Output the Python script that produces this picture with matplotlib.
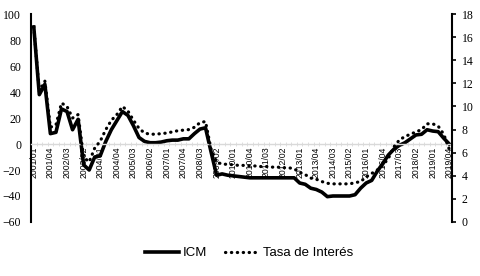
import matplotlib.pyplot as plt
from matplotlib.ticker import MultipleLocator

# trimestres 2001/01 .. 2019/04
anios = list(range(2001, 2020))
trimestres = ["01", "02", "03", "04"]
periodos = [f"{a}/{t}" for a in anios for t in trimestres]

icm = [90, 38, 46, 8, 9, 27, 25, 11, 19, -16,
       -20, -10, -9, 2, 11, 18, 25, 22, 14, 5,
       2, 1, 1, 1.5, 2.5, 3, 3, 4, 4, 8,
       11.5, 12.5, -6, -24, -23, -24, -24.5, -25, -25.5, -26,
       -26, -26, -26, -26, -26, -26, -26, -26, -30, -31,
       -34, -35, -37, -40.5, -40, -40, -40, -40, -39, -34,
       -30, -28, -21, -15, -8.5, -4, -1, 1, 4, 7,
       7.5, 11, 10, 9.5, 4.5, 0]

tasa = [16.9, 11.3, 12.2, 8.2, 8.4, 10.3, 10.0, 9.0, 9.3, 5.6,
        5.2, 6.4, 7.0, 8.0, 8.8, 9.3, 10.0, 9.6, 8.8, 8.1,
        7.7, 7.6, 7.6, 7.65, 7.7, 7.8, 7.9, 7.95, 8.0, 8.2,
        8.6, 8.7, 6.3, 5.2, 5.0, 5.0, 4.95, 4.9, 4.9, 4.85,
        4.85, 4.8, 4.8, 4.75, 4.75, 4.7, 4.7, 4.6, 4.3, 4.1,
        3.8, 3.7, 3.5, 3.35, 3.3, 3.3, 3.3, 3.3, 3.4, 3.5,
        3.9, 4.2, 4.5, 4.9, 5.5, 6.5, 7.1, 7.4, 7.6, 7.8,
        8.0, 8.5, 8.5, 8.3, 7.6, 6.3]

x = list(range(len(periodos)))

fig = plt.figure(figsize=(4.8, 2.76), dpi=100)
ax = fig.add_axes([0.0646, 0.1957, 0.8771, 0.7533])
ax2 = ax.twinx()

l1, = ax.plot(x, icm, color="black", lw=2.6, solid_joinstyle="round", label="ICM")
l2, = ax2.plot(x, tasa, color="black", lw=2.3, linestyle=(0, (0.1, 1.75)),
               dash_capstyle="round", label="Tasa de Interés")

ax.set_xlim(-0.5, len(periodos) - 0.5)
ax.set_ylim(-60, 100)
ax2.set_ylim(0, 18)
ax.yaxis.set_major_locator(MultipleLocator(20))
ax2.yaxis.set_major_locator(MultipleLocator(2))

# eje x cruzando en 0
ax.spines["bottom"].set_position(("data", 0))
ax.spines["bottom"].set_color("#d9d9d9")
ax.spines["bottom"].set_linewidth(1.0)
for s in ["top", "right"]:
    ax.spines[s].set_visible(False)
for s in ["top", "left", "bottom"]:
    ax2.spines[s].set_visible(False)
ax.spines["left"].set_linewidth(1.5)
ax2.spines["right"].set_linewidth(1.5)

ax.set_xticks(x[::3])
ax.set_xticklabels(periodos[::3], rotation=90, fontsize=6.2,
                   family="Liberation Sans", va="top")
ax.set_xticks([i - 0.5 for i in range(len(periodos) + 1)], minor=True)
ax.tick_params(axis="x", which="major", length=0, pad=2)
ax.tick_params(axis="x", which="minor", length=3, direction="inout", color="#d9d9d9")

ax.tick_params(axis="y", length=0, pad=7, labelsize=8.5)
ax2.tick_params(axis="y", length=3, direction="out", width=1.2, pad=4, labelsize=8.5)
for lab in ax.get_yticklabels() + ax2.get_yticklabels():
    lab.set_family("Liberation Serif")

fig.legend(handles=[l1, l2], loc="center", bbox_to_anchor=(0.519, 0.083), ncol=2,
           frameon=False, prop={"family": "Liberation Sans", "size": 9.5},
           handlelength=2.6, handletextpad=0.3, columnspacing=1.3)

fig.savefig("out.png", dpi=100)
